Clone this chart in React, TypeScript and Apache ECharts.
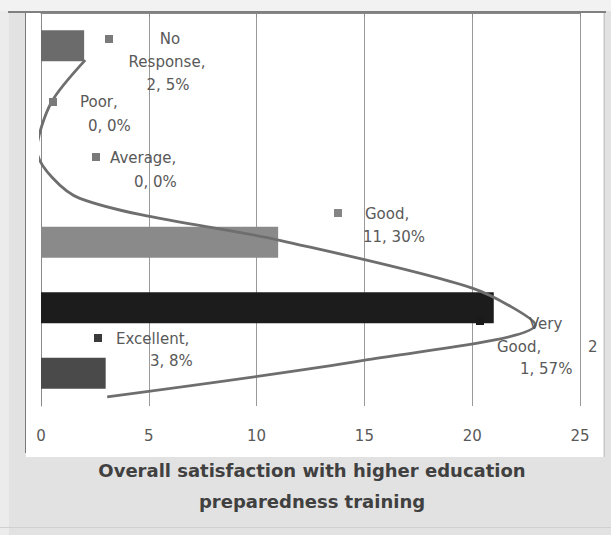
import React, { useEffect, useRef } from "react";
import * as echarts from "echarts";

// ---- data ----
const categories = ["No Response", "Poor", "Average", "Good", "Very Good", "Excellent"];
const counts = [2, 0, 0, 11, 21, 3];
const percents = [5, 0, 0, 30, 57, 8];
const xTickValues = [0, 5, 10, 15, 20, 25];
// smooth trend curve, read along its path (x in counts, y in category units from the top)
const curveX = [2.05, 0.47, -0.19, 1.8, 11.07, 20.0, 22.93, 15.02, 3.07];
const curveY = [0.72, 1.37, 2.09, 2.83, 3.47, 4.2, 4.76, 5.3, 5.86];
const titleLines = ["Overall satisfaction with higher education", "preparedness training"];

// ---- styles ----
const barColors = ["#6b6b6b", "#7a7a7a", "#7a7a7a", "#8a8a8a", "#1c1c1c", "#4a4a4a"];
const keyColors = ["#7a7a7a", "#7a7a7a", "#7a7a7a", "#858585", "#1a1a1a", "#3a3a3a"];
const FONT = "'DejaVu Sans', 'Open Sans', sans-serif";
const LABEL_COLOR = "#595959";

export default function App() {
  const ref = useRef<HTMLDivElement>(null);

  useEffect(() => {
    if (!ref.current) return;
    const chart = echarts.init(ref.current, undefined, { renderer: "svg" });

    const txt = (x: number, y: number, text: string, align: string = "left"): any => ({
      type: "text",
      x,
      y,
      z: 5,
      style: {
        text,
        fill: LABEL_COLOR,
        font: `15px ${FONT}`,
        align,
        verticalAlign: "middle",
      },
    });
    const key = (i: number, cx: number, cy: number): any => ({
      type: "rect",
      z: 5,
      shape: { x: cx - 4, y: cy - 4, width: 8, height: 8 },
      style: { fill: keyColors[i] },
    });
    const nameOf = (i: number) => `${categories[i]},`;
    const valOf = (i: number) => `${counts[i]}, ${percents[i]}%`;
    const vgWords = categories[4].split(" ");
    const vgCount = String(counts[4]);

    const labelGraphics: any[] = [
      // No Response (centered block)
      key(0, 109, 39),
      txt(170, 39, categories[0].split(" ")[0], "center"),
      txt(167, 62, `${categories[0].split(" ")[1]},`, "center"),
      txt(168, 85, valOf(0), "center"),
      // Poor
      key(1, 53, 102),
      txt(80, 102, nameOf(1)),
      txt(88, 126, valOf(1)),
      // Average
      key(2, 96, 157),
      txt(110, 158, nameOf(2)),
      txt(134, 182, valOf(2)),
      // Good
      key(3, 338, 213),
      txt(365, 214, nameOf(3)),
      txt(363, 237, valOf(3)),
      // Very Good (wrapped oddly in the original)
      key(4, 480, 321),
      txt(529, 324, vgWords[0]),
      txt(497, 347, `${vgWords[1]},`),
      txt(588, 347, vgCount.slice(0, 1)),
      txt(520, 369, `${vgCount.slice(1)}, ${percents[4]}%`),
      // Excellent
      key(5, 98, 338),
      txt(116, 339, nameOf(5)),
      txt(150, 361, valOf(5)),
    ];

    const option: any = {
      animation: false,
      backgroundColor: "#e2e2e2",
      grid: { left: 41, right: 31, top: 13, bottom: 129, containLabel: false },
      xAxis: {
        type: "value",
        min: xTickValues[0],
        max: xTickValues[xTickValues.length - 1],
        interval: xTickValues[1] - xTickValues[0],
        axisLine: { show: true, lineStyle: { color: "#8a8a8a", width: 1 } },
        axisTick: { show: true, length: 4, lineStyle: { color: "#8a8a8a" } },
        axisLabel: {
          color: LABEL_COLOR,
          fontSize: 15,
          fontFamily: FONT,
          margin: 22,
        },
        splitLine: { show: true, lineStyle: { color: "#9a9a9a", width: 1 } },
      },
      yAxis: [
        {
          type: "category",
          data: categories,
          inverse: true,
          axisLine: { show: true, lineStyle: { color: "#8a8a8a", width: 1 } },
          axisTick: { show: false },
          axisLabel: { show: false },
          splitLine: { show: false },
        },
        {
          type: "value",
          min: 0,
          max: categories.length,
          inverse: true,
          show: false,
          splitLine: { show: false },
        },
      ],
      series: [
        {
          type: "bar",
          yAxisIndex: 0,
          barWidth: 31,
          data: counts.map((v, i) => ({ value: v, itemStyle: { color: barColors[i] } })),
          z: 2,
        },
        {
          type: "line",
          yAxisIndex: 1,
          smooth: 0.28,
          clip: false,
          symbol: "none",
          data: curveX.map((x, i) => [x, curveY[i]]),
          lineStyle: { color: "#6e6e6e", width: 2.8 },
          z: 4,
        },
      ],
      graphic: [
        { type: "rect", z: -10, shape: { x: 0, y: 0, width: 611, height: 11 }, style: { fill: "#f2f2f2" } },
        { type: "rect", z: -10, shape: { x: 0, y: 11, width: 9, height: 524 }, style: { fill: "#ececec" } },
        { type: "rect", z: -10, shape: { x: 26, y: 13, width: 577, height: 444 }, style: { fill: "#ffffff" } },
        { type: "line", z: -9, shape: { x1: 8, y1: 12, x2: 606, y2: 12 }, style: { stroke: "#808080", lineWidth: 2 } },
        { type: "line", z: -9, shape: { x1: 25.5, y1: 13, x2: 25.5, y2: 453 }, style: { stroke: "#7a7a7a", lineWidth: 1 } },
        { type: "line", z: -9, shape: { x1: 604.5, y1: 13, x2: 604.5, y2: 457 }, style: { stroke: "#c8c8c8", lineWidth: 1 } },
        { type: "line", z: -9, shape: { x1: 0, y1: 527.5, x2: 611, y2: 527.5 }, style: { stroke: "#d0d0d0", lineWidth: 1 } },
        ...labelGraphics,
        {
          type: "text",
          x: 312,
          y: 470,
          z: 5,
          style: {
            text: titleLines[0],
            fill: "#404040",
            font: `bold 18px ${FONT}`,
            align: "center",
            verticalAlign: "middle",
          },
        },
        {
          type: "text",
          x: 312,
          y: 501,
          z: 5,
          style: {
            text: titleLines[1],
            fill: "#404040",
            font: `bold 18px ${FONT}`,
            align: "center",
            verticalAlign: "middle",
          },
        },
      ],
    };

    chart.setOption(option);
    return () => chart.dispose();
  }, []);

  return (
    <div
      ref={ref}
      style={{ position: "fixed", left: 0, top: 0, width: 611, height: 535 }}
    />
  );
}
